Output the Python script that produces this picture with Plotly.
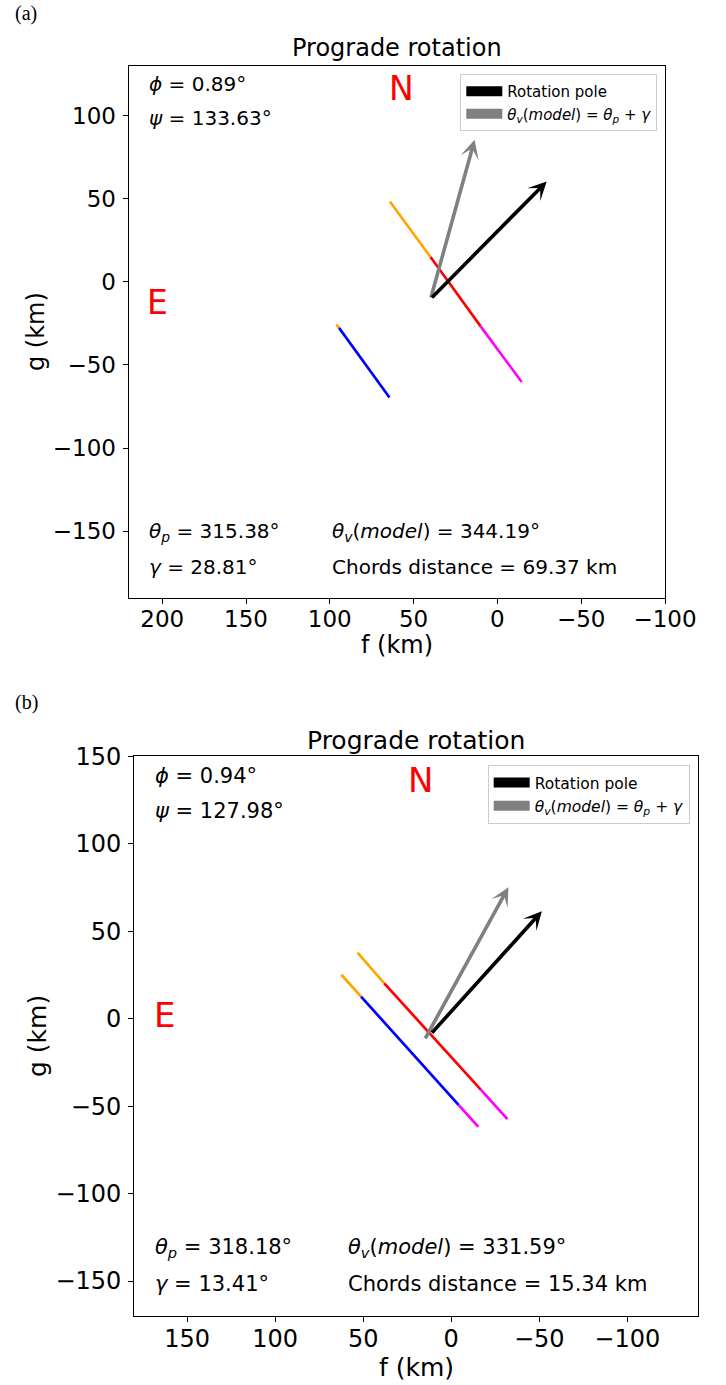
import plotly.graph_objects as go

# ---------------- data: panel (a) ----------------
a_long_f = [64.2, 39.9, 10.0, -14.5]
a_long_g = [48.3, 14.9, -26.8, -60.2]
a_long_colors = ["#FFA500", "#FF0000", "#FF00FF"]
a_short_f = [96.1, 94.5, 64.4]
a_short_g = [-25.7, -27.7, -69.6]
a_short_colors = ["#FFA500", "#0000FF"]
a_arrow_f0 = [39.9, 39.9]
a_arrow_g0 = [-10.3, -10.3]
a_arrow_f1 = [13.6, -29.4]
a_arrow_g1 = [85.4, 60.3]
a_arrow_colors = ["#808080", "#000000"]
a_text = {"phi": "0.89", "psi": "133.63", "thp": "315.38", "gam": "28.81",
          "thv": "344.19", "dist": "69.37"}

# ---------------- data: panel (b) ----------------
b_outer_f = [53.2, 38.0, -16.8, -31.9]
b_outer_g = [37.7, 20.2, -40.6, -57.4]
b_outer_colors = ["#FFA500", "#FF0000", "#FF00FF"]
b_inner_f = [62.4, 51.2, -4.3, -15.4]
b_inner_g = [25.1, 12.6, -49.4, -61.9]
b_inner_colors = ["#FFA500", "#0000FF", "#FF00FF"]
b_arrow_f0 = [15.2, 11.7]
b_arrow_g0 = [-12.1, -8.9]
b_arrow_f1 = [-32.5, -51.5]
b_arrow_g1 = [75.1, 61.4]
b_arrow_colors = ["#808080", "#000000"]
b_text = {"phi": "0.94", "psi": "127.98", "thp": "318.18", "gam": "13.41",
          "thv": "331.59", "dist": "15.34"}

a_xticks = [200, 150, 100, 50, 0, -50, -100]
a_yticks = [100, 50, 0, -50, -100, -150]
b_xticks = [150, 100, 50, 0, -50, -100]
b_yticks = [150, 100, 50, 0, -50, -100, -150]

FW, FH = 726, 1385
FONT = "DejaVu Sans"


def PX(x):
    return x / FW


def PY(y):
    return 1 - y / FH


fig = go.Figure()


def add_chord(f, g, colors, xa, ya, width):
    for i, c in enumerate(colors):
        fig.add_trace(go.Scatter(x=f[i:i + 2], y=g[i:i + 2], mode="lines",
                                 line=dict(color=c, width=width),
                                 xaxis=xa, yaxis=ya, showlegend=False,
                                 hoverinfo="skip"))


add_chord(a_long_f, a_long_g, a_long_colors, "x", "y", 2.6)
add_chord(a_short_f, a_short_g, a_short_colors, "x", "y", 2.6)
add_chord(b_outer_f, b_outer_g, b_outer_colors, "x2", "y2", 2.7)
add_chord(b_inner_f, b_inner_g, b_inner_colors, "x2", "y2", 2.7)

leg_label2 = ("<i>θ</i><sub><i>v</i></sub>(<i>model</i>) = "
              "<i>θ</i><sub><i>p</i></sub> + <i>γ</i>")
for xa, ya, lg in [("x", "y", "legend"), ("x2", "y2", "legend2")]:
    fig.add_trace(go.Scatter(x=[None], y=[None], mode="lines",
                             line=dict(color="black", width=10),
                             name="Rotation pole", legend=lg, xaxis=xa, yaxis=ya))
    fig.add_trace(go.Scatter(x=[None], y=[None], mode="lines",
                             line=dict(color="#808080", width=10),
                             name=leg_label2, legend=lg, xaxis=xa, yaxis=ya))

ann = []


def arrows(f0, g0, f1, g1, colors, xr, yr):
    for i in range(len(f0)):
        ann.append(dict(x=f1[i], y=g1[i], ax=f0[i], ay=g0[i], xref=xr, yref=yr,
                        axref=xr, ayref=yr, text="", showarrow=True,
                        arrowhead=3, arrowsize=0.85, arrowwidth=3.6,
                        arrowcolor=colors[i], standoff=0))


arrows(a_arrow_f0, a_arrow_g0, a_arrow_f1, a_arrow_g1, a_arrow_colors, "x", "y")
arrows(b_arrow_f0, b_arrow_g0, b_arrow_f1, b_arrow_g1, b_arrow_colors, "x2", "y2")


def panel_texts(t, xr, yr, fs, nefs, ypos, epos):
    xd, yd = xr + " domain", yr + " domain"
    items = [
        (0.034, ypos[0], "<i>ϕ</i> = %s°" % t["phi"]),
        (0.034, ypos[1], "<i>ψ</i> = %s°" % t["psi"]),
        (0.034, ypos[2], "<i>θ</i><sub><i>p</i></sub> = %s°" % t["thp"]),
        (0.034, ypos[3], "<i>γ</i> = %s°" % t["gam"]),
        (0.375, ypos[2], "<i>θ</i><sub><i>v</i></sub>(<i>model</i>) = %s°" % t["thv"]),
        (0.375, ypos[3], "Chords distance = %s km" % t["dist"]),
    ]
    for x, y, s in items:
        ann.append(dict(x=x, y=y, xref=xd, yref=yd, text=s, showarrow=False,
                        xanchor="left", yanchor="middle",
                        font=dict(size=fs, family=FONT, color="black")))
    ann.append(dict(x=0.508, y=0.957, xref=xd, yref=yd, text="N", showarrow=False,
                    xanchor="center", yanchor="middle",
                    font=dict(size=nefs, family=FONT, color="red")))
    ann.append(dict(x=0.053, y=epos, xref=xd, yref=yd, text="E", showarrow=False,
                    xanchor="center", yanchor="middle",
                    font=dict(size=nefs, family=FONT, color="red")))


panel_texts(a_text, "x", "y", 20, 33, [0.965, 0.901, 0.123, 0.058], 0.555)
panel_texts(b_text, "x2", "y2", 21, 34, [0.964, 0.902, 0.121, 0.057], 0.538)


def page_text(px, py, s, size, family=FONT, angle=0):
    ann.append(dict(x=PX(px), y=PY(py), xref="paper", yref="paper", text=s,
                    showarrow=False, xanchor="center", yanchor="middle",
                    textangle=angle, font=dict(size=size, family=family, color="black")))


page_text(25.5, 13, "(a)", 20, "Liberation Serif")
page_text(26, 702, "(b)", 20, "Liberation Serif")
page_text(397, 48, "Prograde rotation", 24)
page_text(416, 740, "Prograde rotation", 25)
page_text(397, 645, "f (km)", 24)
page_text(416, 1367, "f (km)", 25)
page_text(36, 332, "g (km)", 24, angle=-90)
page_text(37, 1036, "g (km)", 25, angle=-90)

axis_common = dict(showline=True, mirror=True, linecolor="black", linewidth=1.3,
                   ticks="outside", ticklen=5, tickwidth=1.2, tickcolor="black",
                   showgrid=False, zeroline=False, fixedrange=True, automargin=False)

fig.update_layout(
    width=FW, height=FH, autosize=False,
    margin=dict(l=0, r=0, t=0, b=0, pad=0, autoexpand=False),
    paper_bgcolor="white", plot_bgcolor="white",
    font=dict(family=FONT, color="black"),
    xaxis=dict(domain=[PX(128.7), PX(665)], range=[220, -100], anchor="y",
               tickvals=a_xticks, tickfont=dict(size=23), ticklabelstandoff=-4,
               **axis_common),
    yaxis=dict(domain=[PY(597.7), PY(65.7)], range=[-190, 130], anchor="x",
               tickvals=a_yticks, tickfont=dict(size=23), ticklabelstandoff=2,
               **axis_common),
    xaxis2=dict(domain=[PX(134.3), PX(697.7)], range=[180, -140], anchor="y2",
                tickvals=b_xticks, tickfont=dict(size=24), ticklabelstandoff=-4,
                **axis_common),
    yaxis2=dict(domain=[PY(1316), PY(756.3)], range=[-170, 150], anchor="x2",
                tickvals=b_yticks, tickfont=dict(size=24), ticklabelstandoff=2,
                **axis_common),
    legend=dict(x=PX(657.3), y=PY(74), xanchor="right", yanchor="top",
                bgcolor="white", bordercolor="#cccccc", borderwidth=1,
                font=dict(size=15, family=FONT), itemwidth=36, tracegroupgap=0),
    legend2=dict(x=PX(689.7), y=PY(765), xanchor="right", yanchor="top",
                 bgcolor="white", bordercolor="#cccccc", borderwidth=1,
                 font=dict(size=15.5, family=FONT), itemwidth=36, tracegroupgap=0),
    annotations=ann,
    showlegend=True,
)

fig.write_html("out.html")
